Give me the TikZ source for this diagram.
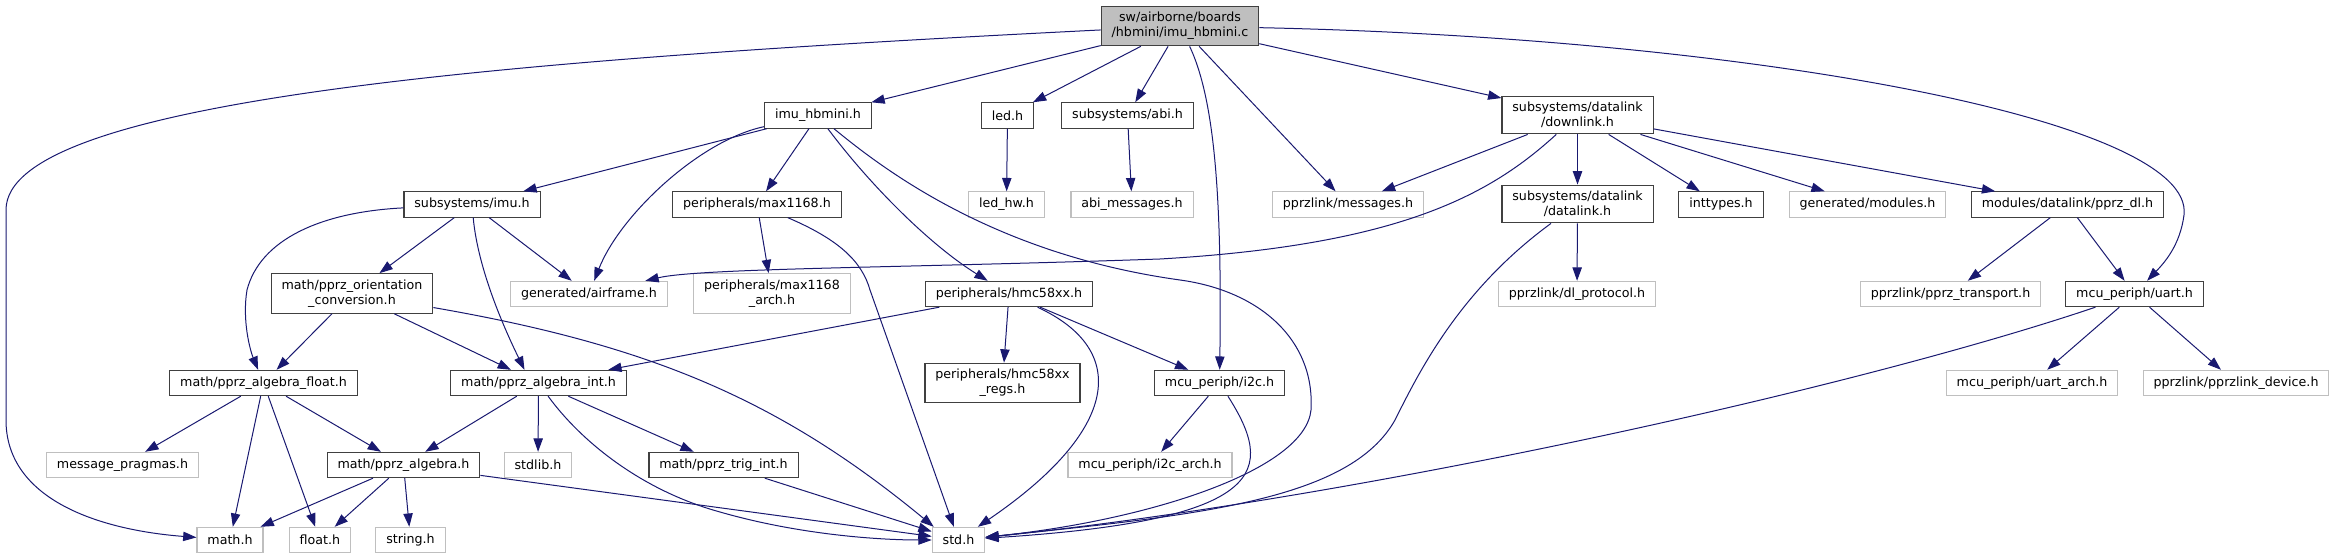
\documentclass[tikz,border=0pt]{standalone}
\usepackage{fontspec}
\setmainfont{DejaVu Sans}
\usepackage{xcolor}
\usepackage{tikz}
\usetikzlibrary{arrows.meta,calc}

\definecolor{edgeblue}{HTML}{191970}
\definecolor{docline}{HTML}{404040}
\definecolor{sysline}{HTML}{BFBFBF}

\begin{document}
\begin{tikzpicture}[
    x=0.75pt,y=-0.75pt,
    font=\fontsize{9.5pt}{11.25pt}\selectfont,
    box/.style={draw=docline,line width=0.8pt,fill=white,align=center,inner xsep=7.8pt,inner ysep=4.5pt,minimum height=19pt},
    sysbox/.style={box,draw=sysline},
    rootbox/.style={box,fill=sysline},
    arr/.style={-{Triangle[length=10pt,width=7pt]},color=edgeblue,line width=0.75pt}
  ]
    \useasboundingbox (0,0) rectangle (2333,559);

    \node[rootbox] (imuc) at (1180,26) {sw/airborne/boards\\/hbmini/imu\_hbmini.c};

    \node[box] (hbminih) at (818,115.5) {imu\_hbmini.h};
    \node[box] (ledh) at (1007.5,115.5) {led.h};
    \node[box] (abih) at (1127.5,115.5) {subsystems/abi.h};
    \node[box] (downlinkh) at (1577.5,115) {subsystems/datalink\\/downlink.h};

    \node[box] (imuh) at (472,204.5) {subsystems/imu.h};
    \node[box] (maxh) at (757,204.5) {peripherals/max1168.h};
    \node[sysbox] (ledhwh) at (1006.5,204.5) {led\_hw.h};
    \node[sysbox] (abimsgh) at (1132,204.5) {abi\_messages.h};
    \node[sysbox] (msgh) at (1348,204.5) {pprzlink/messages.h};
    \node[box] (datalinkh) at (1577.5,204) {subsystems/datalink\\/datalink.h};
    \node[box] (inttypesh) at (1721,204.5) {inttypes.h};
    \node[sysbox] (modulesh) at (1867.5,204.5) {generated/modules.h};
    \node[box] (pprzdlh) at (2067.5,204.5) {modules/datalink/pprz\_dl.h};

    \node[box] (orienth) at (352,293.5) {math/pprz\_orientation\\\_conversion.h};
    \node[sysbox] (airframeh) at (589,294) {generated/airframe.h};
    \node[sysbox] (maxarchh) at (772,293.5) {peripherals/max1168\\\_arch.h};
    \node[box] (hmch) at (1009,294) {peripherals/hmc58xx.h};
    \node[sysbox] (dlprotoh) at (1577,294) {pprzlink/dl\_protocol.h};
    \node[sysbox] (transporth) at (1950.5,294) {pprzlink/pprz\_transport.h};
    \node[box] (uarth) at (2134.5,294) {mcu\_periph/uart.h};

    \node[box] (algfloath) at (263.5,383) {math/pprz\_algebra\_float.h};
    \node[box] (alginth) at (538.5,383) {math/pprz\_algebra\_int.h};
    \node[box] (hmcregsh) at (1002.5,383) {peripherals/hmc58xx\\\_regs.h};
    \node[box] (i2ch) at (1219.5,383) {mcu\_periph/i2c.h};
    \node[sysbox] (uartarchh) at (2032,383) {mcu\_periph/uart\_arch.h};
    \node[sysbox] (deviceh) at (2236,383) {pprzlink/pprzlink\_device.h};

    \node[sysbox] (pragmash) at (122.5,465) {message\_pragmas.h};
    \node[box] (algh) at (403.5,465) {math/pprz\_algebra.h};
    \node[sysbox] (stdlibh) at (538,465) {stdlib.h};
    \node[box] (trigh) at (723.5,465) {math/pprz\_trig\_int.h};
    \node[sysbox] (i2carchh) at (1150,465) {mcu\_periph/i2c\_arch.h};

    \node[sysbox] (mathh) at (230,540) {math.h};
    \node[sysbox] (floath) at (320,540) {float.h};
    \node[sysbox] (stringh) at (410.5,540) {string.h};
    \node[sysbox] (stdh) at (958.5,540) {std.h};

    \draw[arr] (imuc) .. controls (500,60) and (6,100) .. (6,210) -- (6,420) .. controls (6,500) and (100,530) .. (mathh);
    \draw[arr] (imuc) -- (hbminih);
    \draw[arr] (imuc) -- (ledh);
    \draw[arr] (imuc) -- (abih);
    \draw[arr] (imuc) .. controls (1215,100) and (1222,200) .. (i2ch);
    \draw[arr] (imuc) -- (msgh);
    \draw[arr] (imuc) -- (downlinkh);
    \draw[arr] (imuc) .. controls (1750,38) and (2195,120) .. (2184,215) .. controls (2180,245) and (2165,262) .. (uarth);

    \draw[arr] (hbminih) -- (imuh);
    \draw[arr] (hbminih) .. controls (700,140) and (620,215) .. (airframeh);
    \draw[arr] (hbminih) -- (maxh);
    \draw[arr] (hbminih) .. controls (870,185) and (930,245) .. (hmch);
    \draw[arr] (hbminih) .. controls (890,175) and (1000,255) .. (1180,280) .. controls (1260,291) and (1315,340) .. (1311,410) .. controls (1305,470) and (1150,520) .. (stdh);

    \draw[arr] (imuh) .. controls (320,212) and (260,240) .. (247,290) .. controls (242,320) and (250,350) .. (algfloath);
    \draw[arr] (imuh) -- (orienth);
    \draw[arr] (imuh) .. controls (478,270) and (505,330) .. ($(alginth.north)+(-14,0)$);
    \draw[arr] (imuh) -- (airframeh);

    \draw[arr] (maxh) -- (maxarchh);
    \draw[arr] (maxh) .. controls (840,240) and (862,262) .. (870,290) -- (stdh);
    \draw[arr] (ledh) -- (ledhwh);
    \draw[arr] (abih) -- (abimsgh);

    \draw[arr] (downlinkh) -- (msgh);
    \draw[arr] (downlinkh) .. controls (1490,195) and (1400,245) .. (1160,259) .. controls (900,268) and (700,268) .. (airframeh);
    \draw[arr] (downlinkh) -- (datalinkh);
    \draw[arr] (downlinkh) -- (inttypesh);
    \draw[arr] (downlinkh) -- (modulesh);
    \draw[arr] (downlinkh) -- (pprzdlh);

    \draw[arr] (datalinkh) -- (dlprotoh);
    \draw[arr] (datalinkh) .. controls (1460,290) and (1420,370) .. (1395,420) .. controls (1350,500) and (1200,515) .. (stdh);
    \draw[arr] (pprzdlh) -- (transporth);
    \draw[arr] (pprzdlh) -- (uarth);
    \draw[arr] (uarth) .. controls (1850,390) and (1350,500) .. (stdh);
    \draw[arr] (uarth) -- (uartarchh);
    \draw[arr] (uarth) -- (deviceh);

    \draw[arr] (orienth) -- (algfloath);
    \draw[arr] (orienth) -- (alginth);
    \draw[arr] (orienth) .. controls (650,345) and (780,400) .. ($(stdh.north west)+(2,0)$);
    \draw[arr] (hmch) -- (alginth);
    \draw[arr] (hmch) -- (hmcregsh);
    \draw[arr] (hmch) .. controls (1130,350) and (1120,430) .. (stdh);
    \draw[arr] (hmch) -- (i2ch);

    \draw[arr] (algfloath) -- (pragmash);
    \draw[arr] (algfloath) -- (mathh);
    \draw[arr] (algfloath) -- (floath);
    \draw[arr] (algfloath) -- (algh);
    \draw[arr] (alginth) -- (algh);
    \draw[arr] (alginth) -- (stdlibh);
    \draw[arr] (alginth) -- (trigh);
    \draw[arr] (alginth) .. controls (580,440) and (640,490) .. (720,512) .. controls (800,535) and (880,540) .. (stdh);
    \draw[arr] (algh) -- (mathh);
    \draw[arr] (algh) -- (floath);
    \draw[arr] (algh) -- (stringh);
    \draw[arr] (algh) -- (stdh);
    \draw[arr] (trigh) -- (stdh);
    \draw[arr] (i2ch) -- (i2carchh);
    \draw[arr] (i2ch) .. controls (1275,470) and (1270,520) .. (stdh);
  \end{tikzpicture}
\end{document}
